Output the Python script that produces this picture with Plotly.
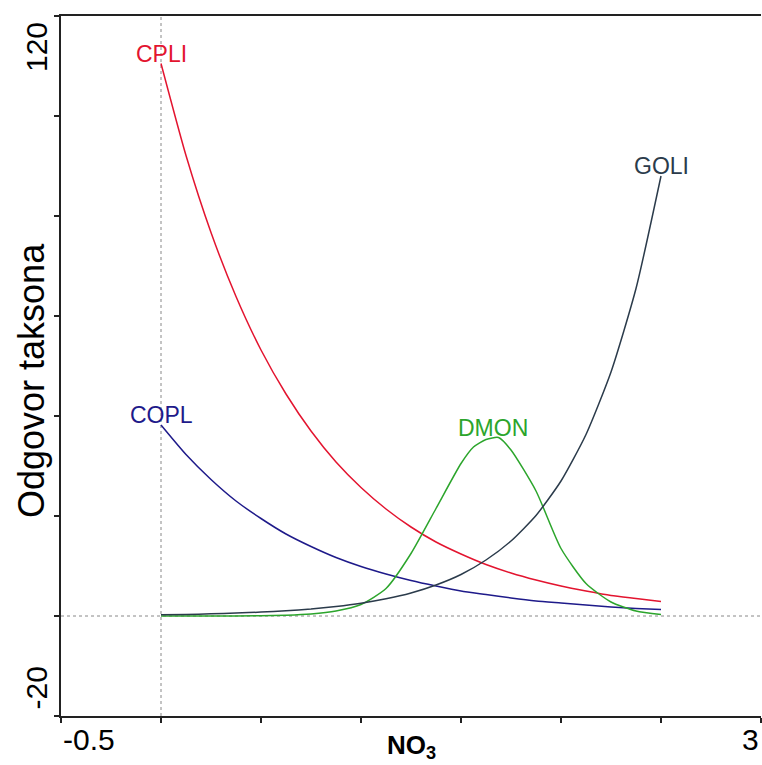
import plotly.graph_objects as go

# ---- data ----
no3 = [0.0, 0.125, 0.25, 0.375, 0.5, 0.625, 0.75, 0.875, 1.0, 1.125, 1.25,
       1.375, 1.5, 1.625, 1.75, 1.875, 2.0, 2.125, 2.25, 2.375, 2.5]
cpli = [110.5, 92.1, 76.7, 63.9, 53.2, 44.4, 37.0, 30.8, 25.7, 21.4, 17.8,
        14.8, 12.4, 10.3, 8.6, 7.2, 6.0, 5.0, 4.1, 3.5, 2.9]
copl = [38.2, 32.3, 27.3, 23.0, 19.5, 16.4, 13.9, 11.7, 9.9, 8.4, 7.1,
        6.0, 5.0, 4.3, 3.6, 3.0, 2.6, 2.2, 1.8, 1.5, 1.3]
goli = [0.24, 0.32, 0.43, 0.58, 0.78, 1.05, 1.4, 1.9, 2.55, 3.43, 4.6,
        6.2, 8.3, 11.2, 15.0, 20.1, 27.0, 36.3, 48.8, 65.5, 88.0]
dmon_x = [0.0, 0.25, 0.5, 0.625, 0.75, 0.875, 1.0, 1.125, 1.25, 1.375, 1.5,
          1.5625, 1.625, 1.6875, 1.75, 1.875, 2.0, 2.125, 2.25, 2.375, 2.5]
dmon = [0.0, 0.0, 0.05, 0.15, 0.4, 1.0, 2.3, 5.5, 12.5, 21.5, 30.5,
        33.8, 35.3, 35.7, 33.2, 25.0, 13.5, 6.5, 2.8, 1.0, 0.3]

x_ticks = [-0.5, 0, 0.5, 1, 1.5, 2, 2.5, 3]
y_ticks = [-20, 0, 20, 40, 60, 80, 100, 120]
x_tick_labels = {-0.5: "-0.5", 3: "3"}
y_tick_labels = {-20: "-20", 120: "120"}

series = [
    ("CPLI", no3, cpli, "#E3142F", "start"),
    ("COPL", no3, copl, "#1E1A8A", "start"),
    ("DMON", dmon_x, dmon, "#2CA52C", "peak"),
    ("GOLI", no3, goli, "#2B3B4B", "end"),
]

FONT = "Arial, Liberation Sans, sans-serif"
fig = go.Figure()
annotations = []
for name, xs, ys, col, where in series:
    fig.add_trace(go.Scatter(x=xs, y=ys, mode="lines", name=name,
                             line=dict(color=col, width=1.5, shape="spline",
                                       smoothing=0.6),
                             showlegend=False, hoverinfo="skip"))
    if where == "start":
        lx, ly = xs[0], ys[0]
    elif where == "end":
        lx, ly = xs[-1], ys[-1]
    else:
        i = ys.index(max(ys))
        lx, ly = xs[i] - 0.03, ys[i]
    annotations.append(dict(x=lx, y=ly, text=name, showarrow=False,
                            xanchor="center", yanchor="bottom", yshift=-5,
                            font=dict(family=FONT, size=23, color=col)))

# tick labels (only the ends are labelled in the reference)
for v, t in x_tick_labels.items():
    annotations.append(dict(x=v, y=0, xref="x", yref="paper", text=t,
                            showarrow=False,
                            xanchor="left" if v == x_ticks[0] else "right",
                            yanchor="middle", yshift=-23,
                            font=dict(family=FONT, size=30, color="black")))
for v, t in y_tick_labels.items():
    annotations.append(dict(x=0, y=v, xref="paper", yref="y", text=t,
                            showarrow=False, textangle=-90,
                            xanchor="center",
                            yanchor="top" if v == y_ticks[-1] else "bottom",
                            xshift=-25, yshift=-4 if v == y_ticks[-1] else 4,
                            font=dict(family=FONT, size=30, color="black")))

# axis titles
annotations.append(dict(x=0, y=0.5, xref="paper", yref="paper",
                        text="Odgovor taksona", showarrow=False, textangle=-90,
                        xanchor="center", yanchor="middle", xshift=-30,
                        yshift=-15,
                        font=dict(family=FONT, size=36, color="black")))
annotations.append(dict(x=0.5, y=0, xref="paper", yref="paper",
                        text="<b>NO<sub>3</sub></b>", showarrow=False,
                        xanchor="center", yanchor="middle", yshift=-30,
                        font=dict(family=FONT, size=26, color="black")))

shapes = [
    dict(type="line", xref="x", yref="paper", x0=0, x1=0, y0=0, y1=1,
         line=dict(color="#888888", width=1, dash="dot"), layer="below"),
    dict(type="line", xref="paper", yref="y", x0=0, x1=1, y0=0, y1=0,
         line=dict(color="#888888", width=1, dash="dot"), layer="below"),
]

fig.update_layout(
    width=762, height=765,
    margin=dict(l=61, r=1, t=16, b=49),
    paper_bgcolor="white", plot_bgcolor="white",
    annotations=annotations, shapes=shapes,
    xaxis=dict(range=[-0.5, 3], tickvals=x_ticks, showticklabels=False,
               ticks="outside", ticklen=5, tickwidth=1.5, tickcolor="#222",
               showline=True, linecolor="#222", linewidth=1.5, mirror=True,
               showgrid=False, zeroline=False),
    yaxis=dict(range=[-20, 120], tickvals=y_ticks, showticklabels=False,
               ticks="outside", ticklen=5, tickwidth=1.5, tickcolor="#222",
               showline=True, linecolor="#222", linewidth=1.5,
               showgrid=False, zeroline=False),
)

fig.write_html(
    "out.html",
    config={"displayModeBar": False},
    post_script="document.body.style.margin='0';"
                "document.body.style.overflow='hidden';",
)
